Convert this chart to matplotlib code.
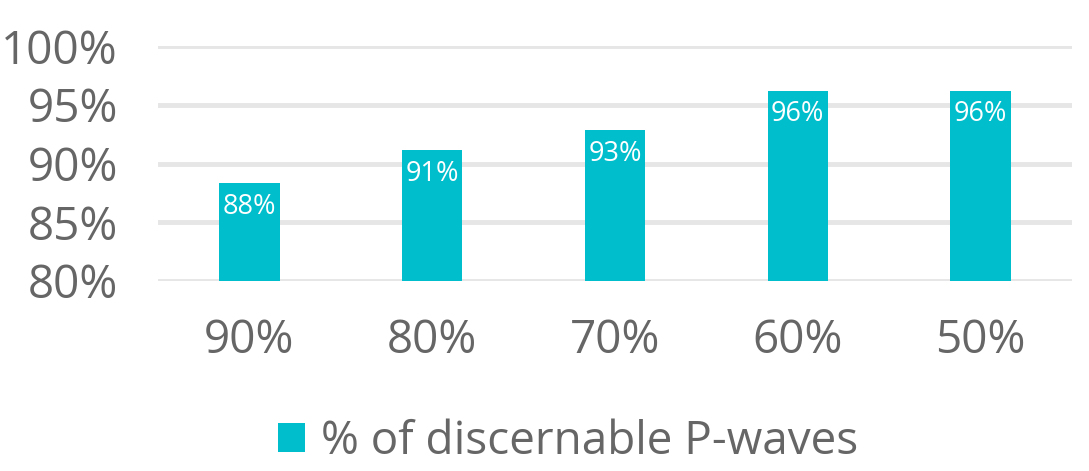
import matplotlib
matplotlib.use('Agg')
import matplotlib.pyplot as plt
from matplotlib.patches import Patch

plt.rcParams['font.family'] = ['Open Sans', 'DejaVu Sans']

CATEGORIES = ['90%', '80%', '70%', '60%', '50%']
VALUES = [88.3, 91.15, 92.85, 96.2, 96.2]
BAR_LABELS = ['88%', '91%', '93%', '96%', '96%']
Y_TICKS = [80, 85, 90, 95, 100]
SERIES_NAME = '% of discernable P-waves'

BAR_COLOR = '#00BECC'
TEXT_COLOR = '#666666'
GRID_COLOR = '#E6E6E6'

fig = plt.figure(figsize=(10.89, 4.71), dpi=100)
ax = fig.add_axes([0.1451, 0.4034, 0.8393, 0.4989])

x = range(len(CATEGORIES))
bars = ax.bar(x, VALUES, width=0.33, color=BAR_COLOR, zorder=3)
for b, lab in zip(bars, BAR_LABELS):
    ax.annotate(lab, (b.get_x() + b.get_width() / 2, b.get_height()),
                xytext=(0, -17), textcoords='offset points', ha='center', va='center',
                color='white', fontsize=19.5, zorder=4)

ax.set_ylim(80, 100)
ax.set_xlim(-0.5, len(CATEGORIES) - 0.5)
ax.set_yticks(Y_TICKS)
ax.set_yticklabels(['{}%'.format(t) for t in Y_TICKS])
ax.set_xticks(list(x))
ax.set_xticklabels(CATEGORIES)
for t in Y_TICKS:
    ax.axhline(t, color=GRID_COLOR, lw=3.5, zorder=1)

for s in ax.spines.values():
    s.set_visible(False)
ax.tick_params(axis='both', length=0, colors=TEXT_COLOR, labelsize=33)
ax.tick_params(axis='y', pad=29)
ax.tick_params(axis='x', pad=27)

handle = Patch(facecolor=BAR_COLOR, edgecolor='none')
fig.legend([handle], [SERIES_NAME], loc='center', bbox_to_anchor=(568 / 1089, 1 - 442 / 471),
           frameon=False, fontsize=33, labelcolor=TEXT_COLOR, handlelength=0.6, handleheight=0.6,
           handletextpad=0.35)

fig.savefig('out.png', dpi=100)
